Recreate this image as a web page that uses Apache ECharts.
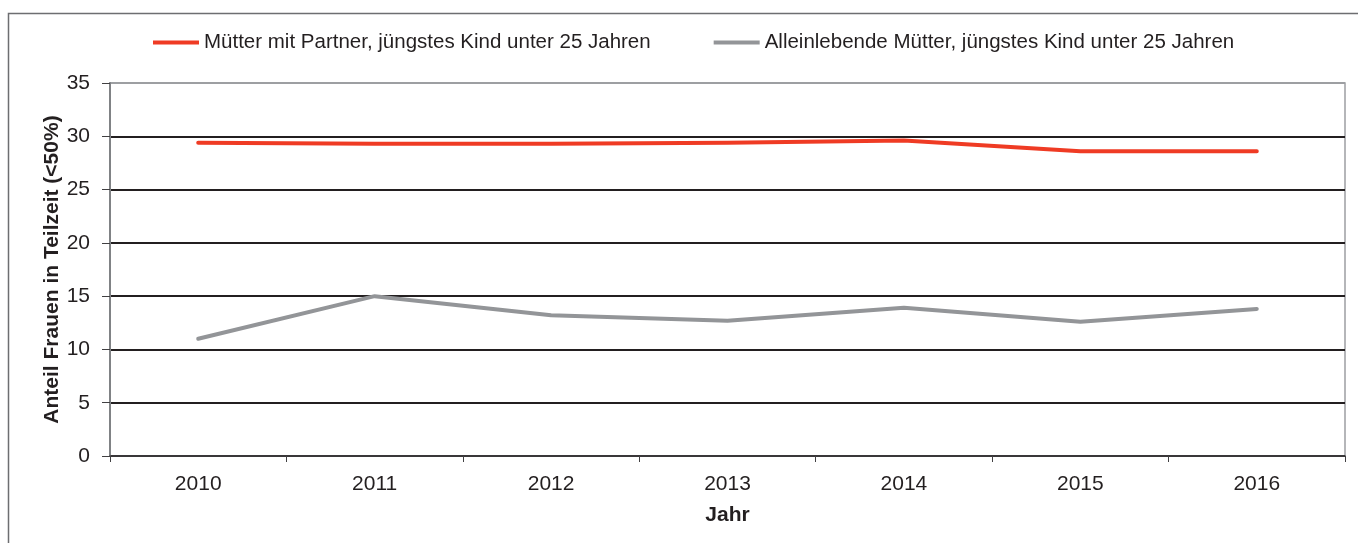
<!DOCTYPE html>
<html>
<head>
<meta charset="utf-8">
<script src="https://cdn.jsdelivr.net/npm/echarts@6/dist/echarts.min.js"></script>
<style>
  html, body { margin: 0; padding: 0; background: #fff; }
  #chart { width: 1358px; height: 543px; }
</style>
</head>
<body>
<div id="chart"></div>
<script>
// Jahre (Kategorien der x-Achse)
const years = ['2010', '2011', '2012', '2013', '2014', '2015', '2016'];
// Anteil Frauen in Teilzeit (<50%) je Jahr
const muetterMitPartner = [29.4, 29.3, 29.3, 29.4, 29.6, 28.6, 28.6];
const alleinlebendeMuetter = [11.0, 15.0, 13.2, 12.7, 13.9, 12.6, 13.8];
const seriesNames = [
  'Mütter mit Partner, jüngstes Kind unter 25 Jahren',
  'Alleinlebende Mütter, jüngstes Kind unter 25 Jahren'
];

const textColor = '#231f20';
const fontFamily = '"Liberation Sans", Arial, sans-serif';

const chart = echarts.init(document.getElementById('chart'), null, { renderer: 'canvas' });
chart.setOption({
  animation: false,
  backgroundColor: '#ffffff',
  textStyle: { fontFamily: fontFamily, color: textColor },
  graphic: [{
    type: 'polyline',
    silent: true,
    shape: { points: [[8.5, 543], [8.5, 13.5], [1358, 13.5]] },
    style: { stroke: '#6d6e71', lineWidth: 1.5, fill: null }
  }],
  legend: {
    left: 148,
    top: 27,
    itemWidth: 46,
    itemHeight: 4,
    itemGap: 63,
    icon: 'rect',
    textStyle: { fontSize: 20.5, color: textColor, fontFamily: fontFamily },
    data: seriesNames
  },
  grid: {
    left: 110,
    right: 13,
    top: 83,
    bottom: 87,
    show: true,
    borderColor: '#9d9fa2',
    borderWidth: 1.5,
    backgroundColor: 'transparent'
  },
  xAxis: {
    type: 'category',
    data: years,
    boundaryGap: true,
    name: 'Jahr',
    nameLocation: 'middle',
    nameGap: 49,
    nameMoveOverlap: false,
    nameTextStyle: { fontSize: 21, fontWeight: 'bold', color: textColor, fontFamily: fontFamily },
    axisLine: { show: true, lineStyle: { color: '#414042', width: 1.5 } },
    axisTick: { show: true, length: 6, inside: false, lineStyle: { color: '#414042', width: 1 } },
    axisLabel: { fontSize: 21, color: textColor, margin: 18, fontFamily: fontFamily },
    splitLine: { show: false }
  },
  yAxis: {
    type: 'value',
    min: 0,
    max: 35,
    interval: 5,
    name: 'Anteil Frauen in Teilzeit (<50%)',
    nameLocation: 'middle',
    nameGap: 47,
    nameMoveOverlap: false,
    nameTextStyle: { fontSize: 21, fontWeight: 'bold', color: textColor, fontFamily: fontFamily },
    axisLine: { show: true, lineStyle: { color: '#808285', width: 2 } },
    axisTick: { show: true, length: 8, lineStyle: { color: '#414042', width: 1 } },
    axisLabel: { fontSize: 21, color: textColor, margin: 20, fontFamily: fontFamily },
    splitLine: {
      show: true,
      lineStyle: {
        color: ['#231f20', '#231f20', '#231f20', '#231f20', '#231f20', '#231f20', '#231f20', '#9d9fa2'],
        width: 2
      }
    }
  },
  series: [
    {
      name: seriesNames[0],
      type: 'line',
      data: muetterMitPartner,
      color: '#ef3b24',
      symbol: 'none',
      lineStyle: { color: '#ef3b24', width: 4, cap: 'round', join: 'round' }
    },
    {
      name: seriesNames[1],
      type: 'line',
      data: alleinlebendeMuetter,
      color: '#939598',
      symbol: 'none',
      lineStyle: { color: '#939598', width: 4, cap: 'round', join: 'round' }
    }
  ]
});
</script>
</body>
</html>
